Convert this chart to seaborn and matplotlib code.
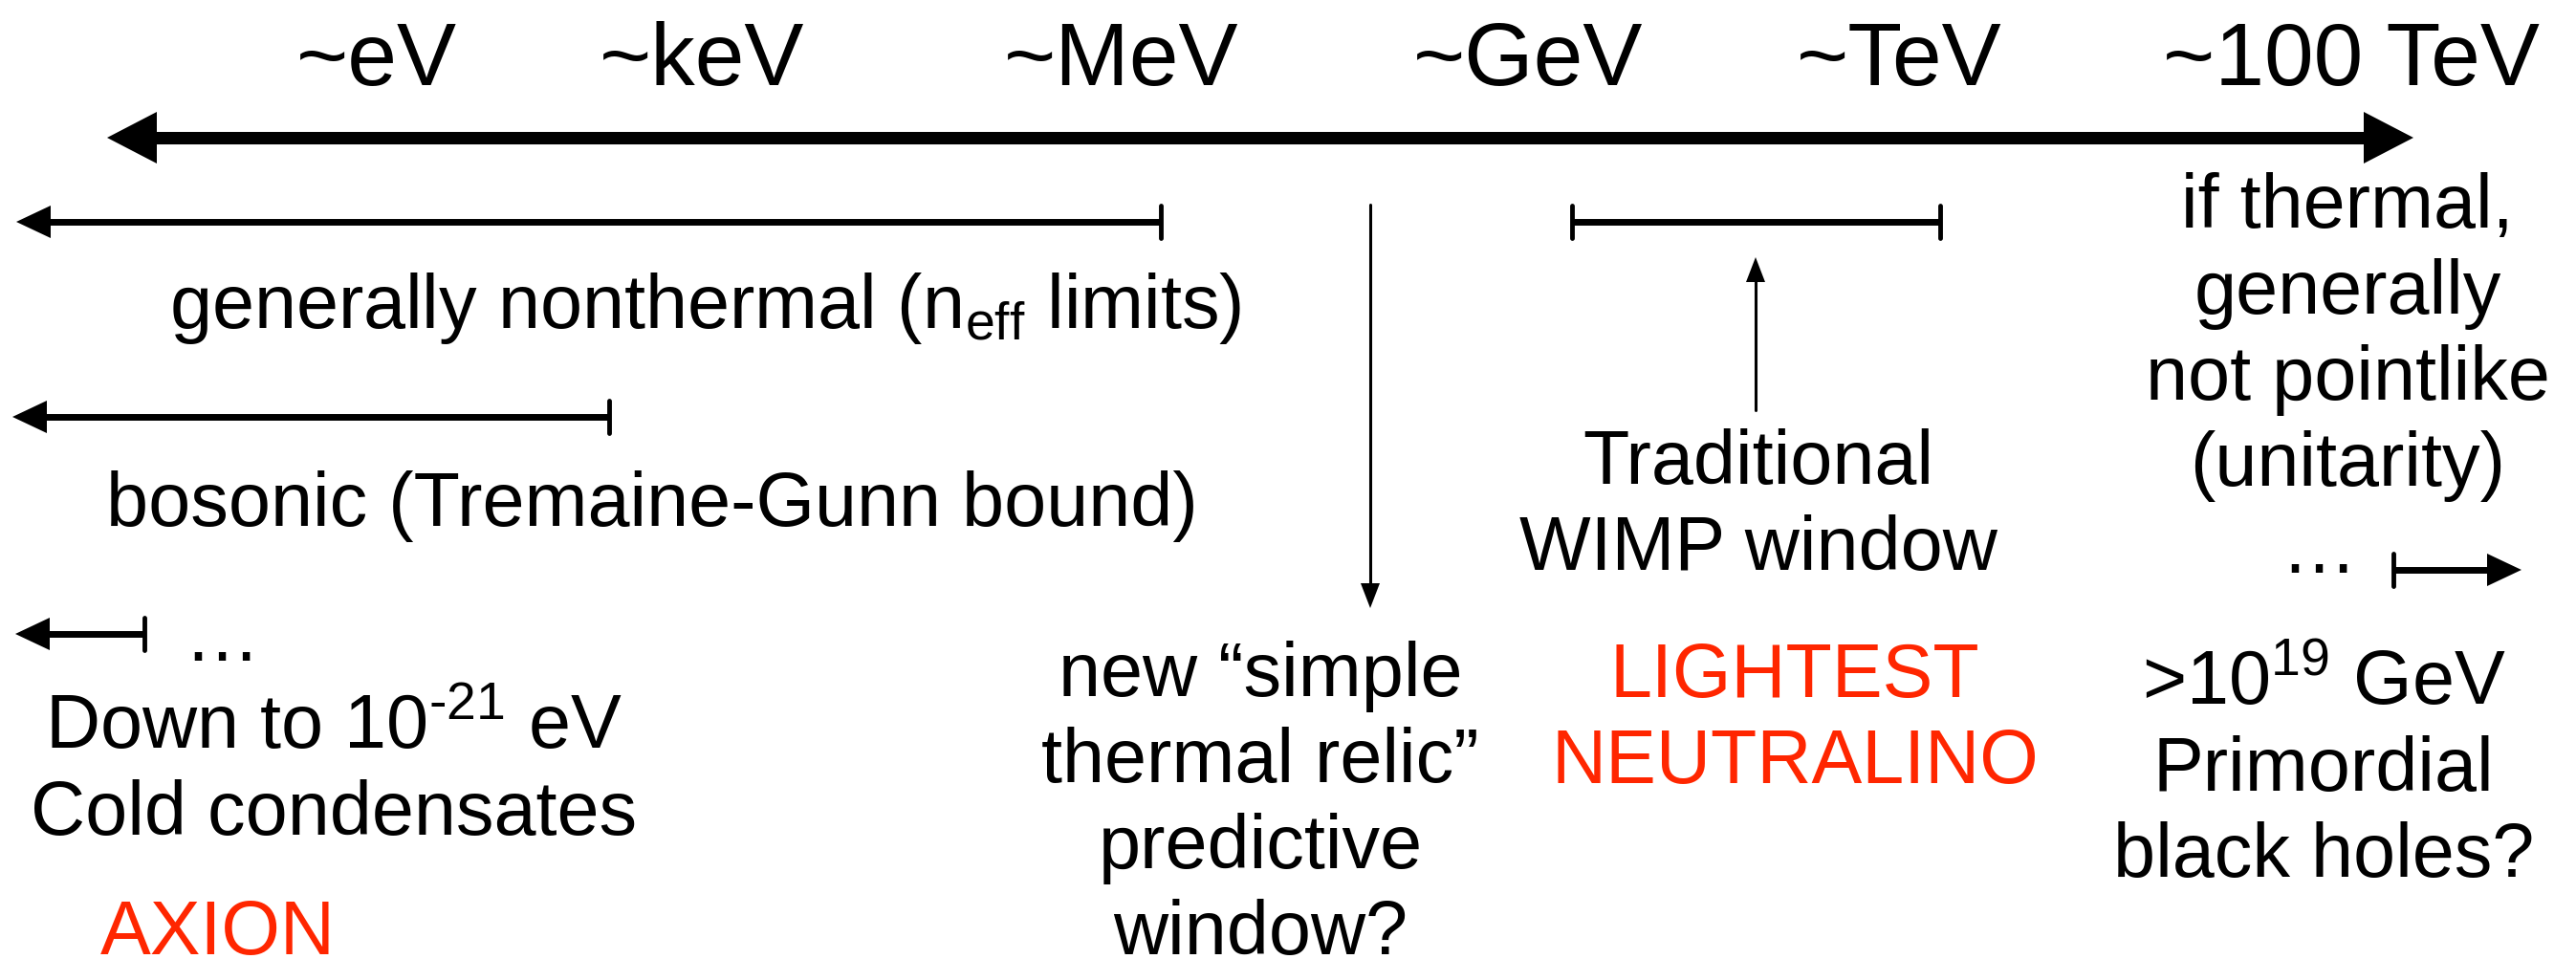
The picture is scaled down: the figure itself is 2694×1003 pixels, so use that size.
import matplotlib
matplotlib.use("Agg")
import matplotlib.pyplot as plt
import seaborn as sns

# Энергетическая шкала (подписи сверху) и их положение по x
scale_labels = ['~eV', '~keV', '~MeV', '~GeV', '~TeV', '~100 TeV']
scale_x = [394, 734, 1173, 1598, 1986, 2459]

# Горизонтальные диапазоны: начало, конец, уровень, левый/правый конец
range_names = ['nonthermal', 'bosonic', 'axion', 'wimp', 'pbh']
range_start = [17, 13, 16, 1644, 2503]
range_end = [1214, 637, 151, 2029, 2637]
range_y = [233, 437, 664, 233, 597]
range_left = ['arrow', 'arrow', 'arrow', 'bar', 'bar']
range_right = ['bar', 'bar', 'bar', 'bar', 'arrow']

RED = '#ff2600'

# Текстовые блоки: (x центра, базовая линия первой строки, строки, цвет)
blocks = [
    (738, 343, ['generally nonthermal (n$_{\\mathregular{eff}}$ limits)'], 'black'),
    (682, 550, ['bosonic (Tremaine-Gunn bound)'], 'black'),
    (232, 691, ['\u2026'], 'black'),
    (349, 783, ['Down to 10$^{\\mathregular{\u201021}}$ eV', 'Cold condensates'], 'black'),
    (228, 998, ['AXION'], RED),
    (1318, 728, ['new \u201csimple', 'thermal relic\u201d', 'predictive', 'window?'], 'black'),
    (1839, 506, ['Traditional', 'WIMP window'], 'black'),
    (1877, 729, ['LIGHTEST', 'NEUTRALINO'], RED),
    (2455, 238, ['if thermal,', 'generally', 'not pointlike', '(unitarity)'], 'black'),
    (2425, 599, ['\u2026'], 'black'),
    (2430, 737, ['>10$^{\\mathregular{19}}$ GeV', 'Primordial', 'black holes?'], 'black'),
]

LINE_STEP = 90


def head(ax, x_tip, y, direction, length, half, vertical=False):
    # треугольный наконечник стрелки
    if vertical:
        xs = [y, y - half, y + half]
        ys = [x_tip, x_tip - direction * length, x_tip - direction * length]
    else:
        xs = [x_tip, x_tip - direction * length, x_tip - direction * length]
        ys = [y, y - half, y + half]
    ax.fill(xs, ys, color='black', lw=0)


def draw():
    sns.set_theme(style="white")
    plt.rcParams['font.family'] = ['Liberation Sans', 'DejaVu Sans']
    plt.rcParams['mathtext.fontset'] = 'custom'
    plt.rcParams['mathtext.rm'] = 'Liberation Sans'

    fig = plt.figure(figsize=(26.94, 10.04), dpi=100)
    ax = fig.add_axes([0, 0, 1, 1])
    ax.set_xlim(0, 2694)
    ax.set_ylim(1004, 0)
    ax.axis('off')

    # Главная ось энергий
    x0, x1, y0 = 112, 2524, 145
    ax.plot([x0 + 50, x1 - 50], [y0, y0], color='black', lw=9.4, solid_capstyle='butt')
    head(ax, x0, y0, -1, 52, 27)
    head(ax, x1, y0, 1, 52, 27)

    for lab, x in zip(scale_labels, scale_x):
        ax.text(x, 89, lab, ha='center', va='baseline', fontsize=67, color='black')

    # Диапазоны
    for s, e, y, l, r in zip(range_start, range_end, range_y, range_left, range_right):
        a = s + (33 if l == 'arrow' else 0)
        b = e - (33 if r == 'arrow' else 0)
        ax.plot([a, b], [y, y], color='black', lw=5, solid_capstyle='butt')
        if l == 'arrow':
            head(ax, s, y, -1, 36, 17)
        else:
            ax.plot([s, s], [y - 17, y + 17], color='black', lw=3.5)
        if r == 'arrow':
            head(ax, e, y, 1, 36, 17)
        else:
            ax.plot([e, e], [y - 17, y + 17], color='black', lw=3.5)

    # Вертикальные стрелки
    ax.plot([1433, 1433], [215, 615], color='black', lw=2.2)
    head(ax, 637, 1433, 1, 26, 10, vertical=True)
    ax.plot([1836, 1836], [430, 292], color='black', lw=2.2)
    head(ax, 270, 1836, -1, 26, 10, vertical=True)

    for x, y, lines, col in blocks:
        for i, line in enumerate(lines):
            ax.text(x, y + i * LINE_STEP, line, ha='center', va='baseline',
                    fontsize=57, color=col)

    fig.savefig('out.png', dpi=100)
    plt.close(fig)


if __name__ == "__main__":
    draw()
